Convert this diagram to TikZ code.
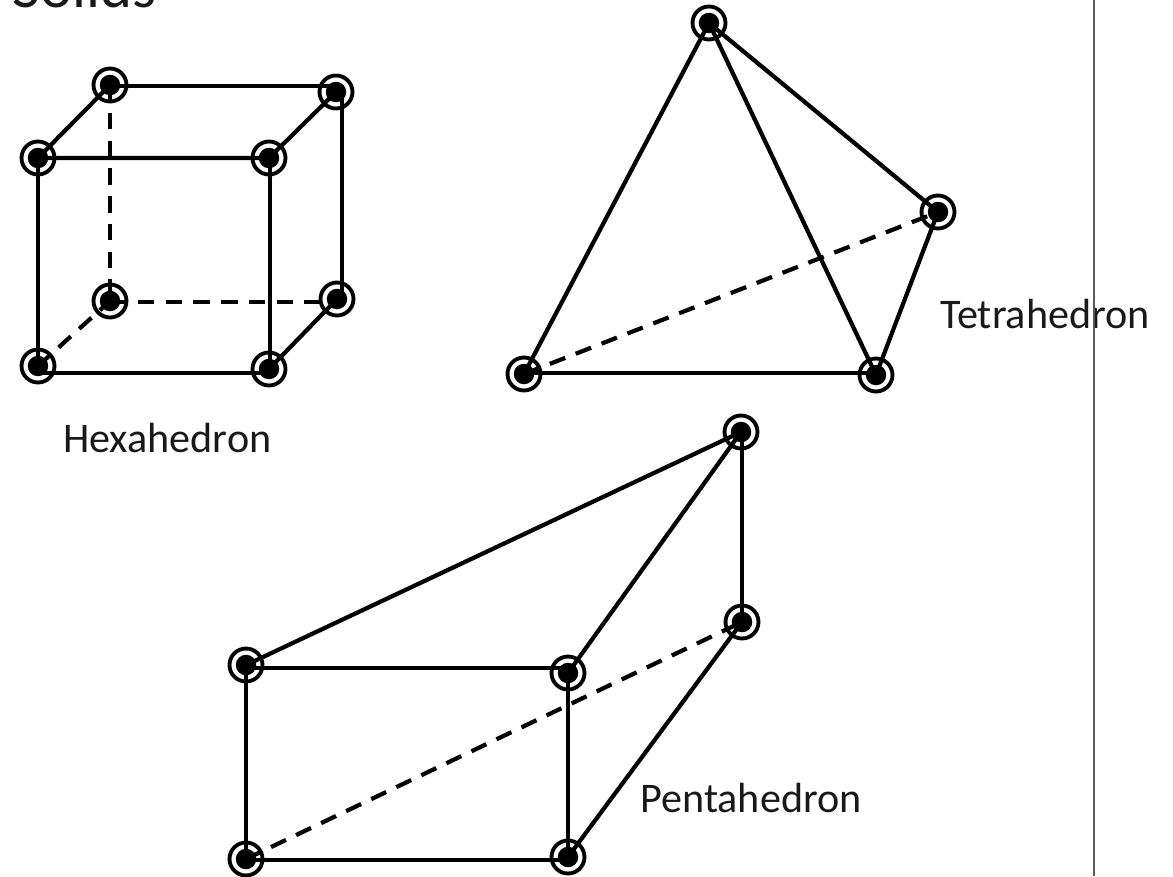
\documentclass[tikz,border=0pt]{standalone}
\usepackage{fontspec}
\setmainfont{Carlito}
\usetikzlibrary{calc, positioning}
\definecolor{rulegray}{RGB}{90,90,90}
\tikzset{
    vertex/.style={circle, draw, line width=2.2pt, minimum size=0.66cm, inner sep=0pt, outer sep=0pt,
        path picture={\fill (path picture bounding box.center) circle (0.205cm);}},
    edge/.style={line width=2.4pt},
    hidden/.style={line width=2.4pt, dash pattern=on 9.4pt off 6.4pt},
    solidname/.style={font=\fontsize{24pt}{28pt}\selectfont, anchor=base west, inner sep=0pt, text=black!90}
}
\begin{document}
\begin{tikzpicture}[x=0.02cm, y=-0.02cm]
        \useasboundingbox (0,0) rectangle (1173,876);

        % title
        \node[font=\fontsize{34.7pt}{40pt}\selectfont, anchor=base west, inner sep=0pt, text=black!90] (title) at (12,7) {Solids};

        % hexahedron vertices
        \node[vertex] (h1) at (110,85) {};
        \node[vertex] (h2) at (336,92) {};
        \node[vertex] (h3) at (38,158) {};
        \node[vertex] (h4) at (269,158) {};
        \node[vertex] (h5) at (110,301) {};
        \node[vertex] (h6) at (337,299) {};
        \node[vertex] (h7) at (38,366) {};
        \node[vertex] (h8) at (269,369) {};

        % tetrahedron vertices
        \node[vertex] (t1) at (709,23) {};
        \node[vertex] (t2) at (938,212) {};
        \node[vertex] (t3) at (524,374) {};
        \node[vertex] (t4) at (876,375) {};

        % pentahedron vertices
        \node[vertex] (p1) at (741,432) {};
        \node[vertex] (p2) at (742,622) {};
        \node[vertex] (p3) at (246,665) {};
        \node[vertex] (p4) at (568,673) {};
        \node[vertex] (p5) at (246,859) {};
        \node[vertex] (p6) at (568,857) {};

        % hexahedron edges
        \draw[edge] (h3.center) -- (h1.center);
        \draw[edge] ($(h1.center)+(0,1)$) -- ($(h2.center)+(0,-6)$);
        \draw[edge] (h3.center) -- (h4.center) -- (h2.center);
        \draw[edge] ($(h2.center)+(6,0)$) -- ($(h6.center)+(5,0)$);
        \draw[edge] (h3.center) -- (h7.center);
        \draw[edge] ($(h4.center)+(1,0)$) -- ($(h8.center)+(1,0)$);
        \draw[edge] ($(h7.center)+(0,7)$) -- ($(h8.center)+(0,4)$);
        \draw[edge] (h8.center) -- (h6.center);
        \draw[hidden] (h1.center) -- (h5.center);
        \draw[hidden] (h7.center) -- (h5.center);
        \draw[hidden] ($(h5.center)+(0,1)$) -- ($(h6.center)+(0,3)$);

        % tetrahedron edges
        \draw[edge] (t3.center) -- (t1.center) -- (t4.center) -- (t2.center) -- (t1.center);
        \draw[edge] ($(t3.center)+(0,-1)$) -- ($(t4.center)+(0,-2)$);
        \draw[hidden] (t3.center) -- (t2.center);

        % pentahedron edges
        \draw[edge] (p3.center) -- (p1.center) -- (p4.center);
        \draw[edge] ($(p1.center)+(1,0)$) -- (p2.center);
        \draw[edge] ($(p3.center)+(0,3)$) -- ($(p4.center)+(0,-5)$);
        \draw[edge] (p3.center) -- (p5.center);
        \draw[edge] (p4.center) -- (p6.center);
        \draw[edge] ($(p5.center)+(0,1)$) -- ($(p6.center)+(0,3)$);
        \draw[edge] (p6.center) -- (p2.center);
        \draw[hidden] (p5.center) -- (p2.center);

        % labels
        \node[solidname] (hexa) at (63,452) {Hexahedron};
        \node[solidname] (tetra) at (940,328) {Tetrahedron};
        \node[solidname] (penta) at (640,812) {Pentahedron};

        % page rule
        \coordinate (ruletop) at (1094,0);
        \coordinate (rulebottom) at (1094,876);
        \draw[rulegray, line width=1.2pt] (ruletop) -- (rulebottom);
\end{tikzpicture}
\end{document}
